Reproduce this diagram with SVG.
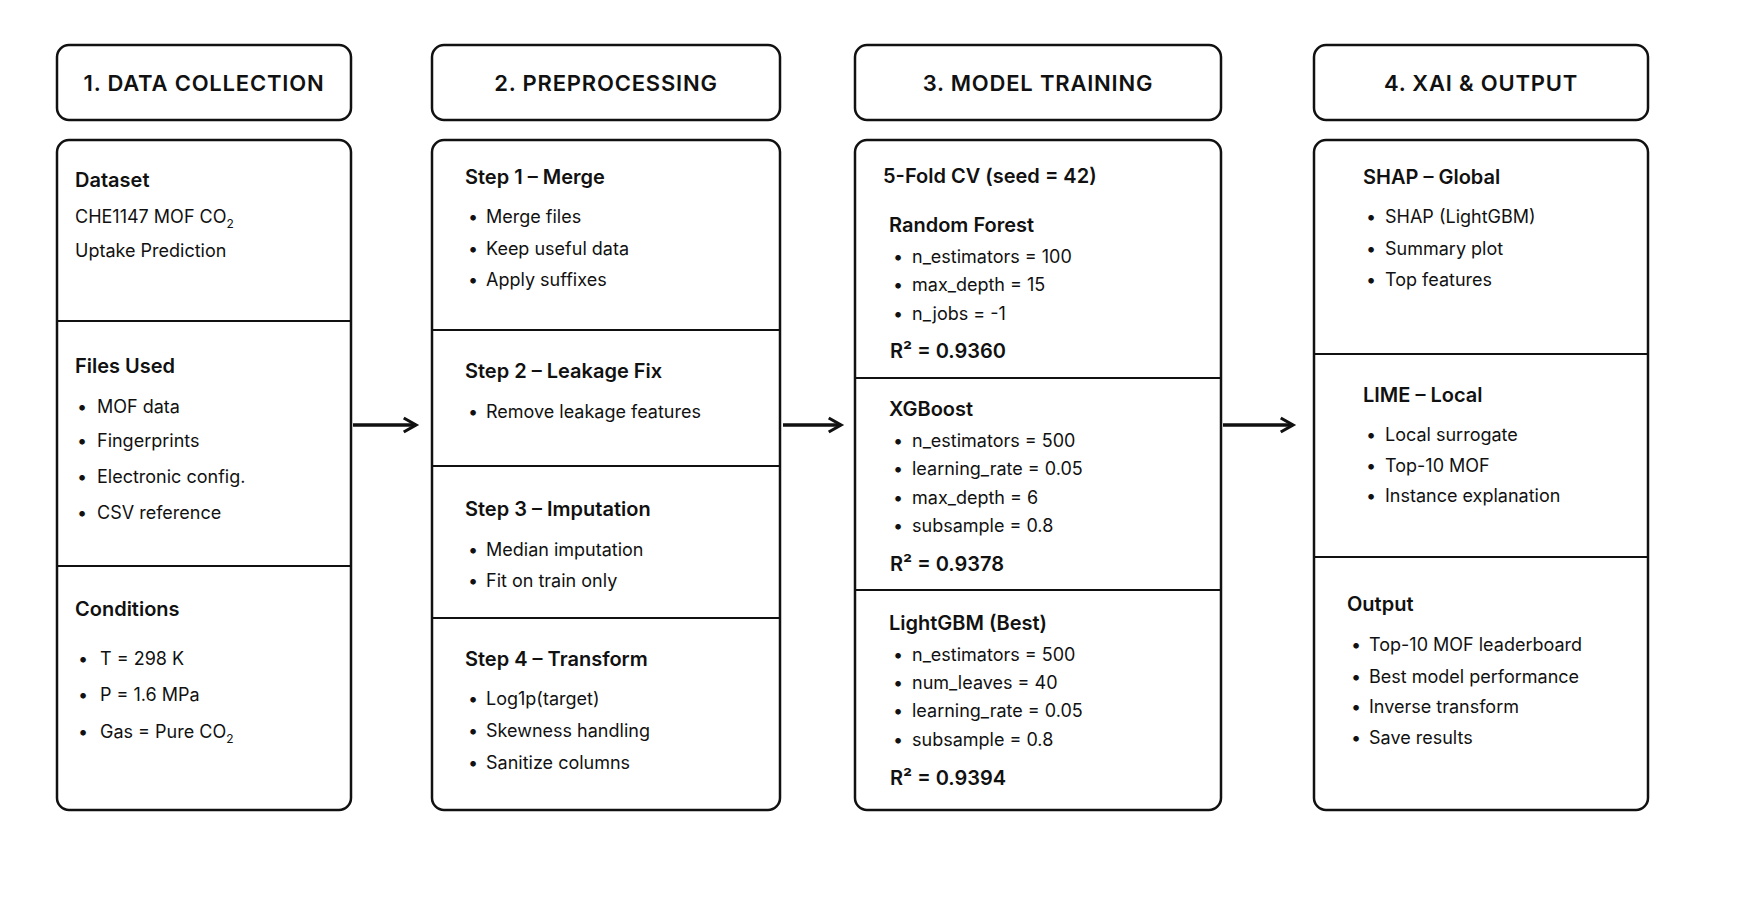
<svg xmlns="http://www.w3.org/2000/svg" width="1753" height="897" viewBox="0 0 1753 897">
<style>
.box{fill:#fff;stroke:#111;stroke-width:2.5}
.div{stroke:#111;stroke-width:2}
text{font-family:Inter,"Noto Sans","Liberation Sans",sans-serif;fill:#111}
.h{font-size:22px;font-weight:600;text-anchor:middle;letter-spacing:0.8px}
.t{font-size:20px;font-weight:600}
.b{font-size:18px}
.con{stroke:#111;stroke-width:3.5;fill:none}
</style>
<defs><marker id="ah" viewBox="0 0 10 10" refX="8" refY="5" markerWidth="5" markerHeight="5" orient="auto"><path d="M1,1 L8,5 L1,9" fill="none" stroke="#111" stroke-width="1.8"/></marker></defs>
<rect width="1753" height="897" fill="#fff"/>
<g id="col1">
<rect class="box" x="57" y="45" width="294" height="75" rx="12"/>
<text class="h" x="204" y="91">1. DATA COLLECTION</text>
<rect class="box" x="57" y="140" width="294" height="670" rx="12"/>
<line class="div" x1="57" y1="321" x2="351" y2="321"/><line class="div" x1="57" y1="566" x2="351" y2="566"/>
<text class="t" x="75" y="187">Dataset</text>
<text class="b" x="75" y="223">CHE1147 MOF CO<tspan font-size="12" dy="5">2</tspan></text>
<text class="b" x="75" y="257">Uptake Prediction</text>
<text class="t" x="75" y="373">Files Used</text>
<text class="b" x="77" y="413">•</text><text class="b" x="97" y="413">MOF data</text>
<text class="b" x="77" y="447">•</text><text class="b" x="97" y="447">Fingerprints</text>
<text class="b" x="77" y="483">•</text><text class="b" x="97" y="483">Electronic config.</text>
<text class="b" x="77" y="519">•</text><text class="b" x="97" y="519">CSV reference</text>
<text class="t" x="75" y="616">Conditions</text>
<text class="b" x="78" y="665">•</text><text class="b" x="100" y="665">T = 298 K</text>
<text class="b" x="78" y="701">•</text><text class="b" x="100" y="701">P = 1.6 MPa</text>
<text class="b" x="78" y="738">•</text><text class="b" x="100" y="738">Gas = Pure CO<tspan font-size="12" dy="5">2</tspan></text>
</g>
<g id="col2">
<rect class="box" x="432" y="45" width="348" height="75" rx="12"/>
<text class="h" x="606" y="91">2. PREPROCESSING</text>
<rect class="box" x="432" y="140" width="348" height="670" rx="12"/>
<line class="div" x1="432" y1="330" x2="780" y2="330"/><line class="div" x1="432" y1="466" x2="780" y2="466"/><line class="div" x1="432" y1="618" x2="780" y2="618"/>
<text class="t" x="465" y="184">Step 1 – Merge</text>
<text class="b" x="468" y="223">•</text><text class="b" x="486" y="223">Merge files</text>
<text class="b" x="468" y="255">•</text><text class="b" x="486" y="255">Keep useful data</text>
<text class="b" x="468" y="286">•</text><text class="b" x="486" y="286">Apply suffixes</text>
<text class="t" x="465" y="378">Step 2 – Leakage Fix</text>
<text class="b" x="468" y="418">•</text><text class="b" x="486" y="418">Remove leakage features</text>
<text class="t" x="465" y="516">Step 3 – Imputation</text>
<text class="b" x="468" y="556">•</text><text class="b" x="486" y="556">Median imputation</text>
<text class="b" x="468" y="587">•</text><text class="b" x="486" y="587">Fit on train only</text>
<text class="t" x="465" y="666">Step 4 – Transform</text>
<text class="b" x="468" y="705">•</text><text class="b" x="486" y="705">Log1p(target)</text>
<text class="b" x="468" y="737">•</text><text class="b" x="486" y="737">Skewness handling</text>
<text class="b" x="468" y="769">•</text><text class="b" x="486" y="769">Sanitize columns</text>
</g>
<g id="col3">
<rect class="box" x="855" y="45" width="366" height="75" rx="12"/>
<text class="h" x="1038" y="91">3. MODEL TRAINING</text>
<rect class="box" x="855" y="140" width="366" height="670" rx="12"/>
<line class="div" x1="855" y1="378" x2="1221" y2="378"/><line class="div" x1="855" y1="590" x2="1221" y2="590"/>
<text class="t" x="883" y="183">5-Fold CV (seed = 42)</text>
<text class="t" x="889" y="232">Random Forest</text>
<text class="b" x="893" y="263">•</text><text class="b" x="912" y="263">n_estimators = 100</text>
<text class="b" x="893" y="291">•</text><text class="b" x="912" y="291">max_depth = 15</text>
<text class="b" x="893" y="320">•</text><text class="b" x="912" y="320">n_jobs = -1</text>
<text class="t" x="890" y="358">R² = 0.9360</text>
<text class="t" x="889" y="416">XGBoost</text>
<text class="b" x="893" y="447">•</text><text class="b" x="912" y="447">n_estimators = 500</text>
<text class="b" x="893" y="475">•</text><text class="b" x="912" y="475">learning_rate = 0.05</text>
<text class="b" x="893" y="504">•</text><text class="b" x="912" y="504">max_depth = 6</text>
<text class="b" x="893" y="532">•</text><text class="b" x="912" y="532">subsample = 0.8</text>
<text class="t" x="890" y="571">R² = 0.9378</text>
<text class="t" x="889" y="630">LightGBM (Best)</text>
<text class="b" x="893" y="661">•</text><text class="b" x="912" y="661">n_estimators = 500</text>
<text class="b" x="893" y="689">•</text><text class="b" x="912" y="689">num_leaves = 40</text>
<text class="b" x="893" y="717">•</text><text class="b" x="912" y="717">learning_rate = 0.05</text>
<text class="b" x="893" y="746">•</text><text class="b" x="912" y="746">subsample = 0.8</text>
<text class="t" x="890" y="785">R² = 0.9394</text>
</g>
<g id="col4">
<rect class="box" x="1314" y="45" width="334" height="75" rx="12"/>
<text class="h" x="1481" y="91">4. XAI &amp; OUTPUT</text>
<rect class="box" x="1314" y="140" width="334" height="670" rx="12"/>
<line class="div" x1="1314" y1="354" x2="1648" y2="354"/><line class="div" x1="1314" y1="557" x2="1648" y2="557"/>
<text class="t" x="1363" y="184">SHAP – Global</text>
<text class="b" x="1366" y="223">•</text><text class="b" x="1385" y="223">SHAP (LightGBM)</text>
<text class="b" x="1366" y="255">•</text><text class="b" x="1385" y="255">Summary plot</text>
<text class="b" x="1366" y="286">•</text><text class="b" x="1385" y="286">Top features</text>
<text class="t" x="1363" y="402">LIME – Local</text>
<text class="b" x="1366" y="441">•</text><text class="b" x="1385" y="441">Local surrogate</text>
<text class="b" x="1366" y="472">•</text><text class="b" x="1385" y="472">Top-10 MOF</text>
<text class="b" x="1366" y="502">•</text><text class="b" x="1385" y="502">Instance explanation</text>
<text class="t" x="1347" y="611">Output</text>
<text class="b" x="1351" y="651">•</text><text class="b" x="1369" y="651">Top-10 MOF leaderboard</text>
<text class="b" x="1351" y="683">•</text><text class="b" x="1369" y="683">Best model performance</text>
<text class="b" x="1351" y="713">•</text><text class="b" x="1369" y="713">Inverse transform</text>
<text class="b" x="1351" y="744">•</text><text class="b" x="1369" y="744">Save results</text>
</g>
<g id="connectors">
<line class="con" x1="353" y1="425" x2="416" y2="425" marker-end="url(#ah)"/>
<line class="con" x1="783" y1="425" x2="841" y2="425" marker-end="url(#ah)"/>
<line class="con" x1="1223" y1="425" x2="1293" y2="425" marker-end="url(#ah)"/>
</g>
</svg>
